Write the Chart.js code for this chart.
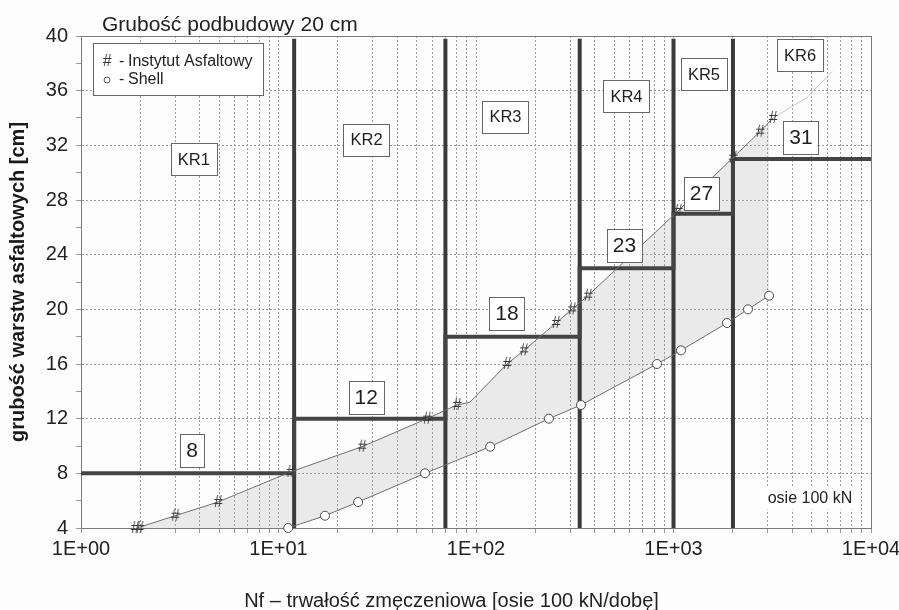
<!DOCTYPE html>
<html>
<head>
<meta charset="utf-8">
<script src="https://cdn.jsdelivr.net/npm/chart.js@4.4.0/dist/chart.umd.min.js"></script>
<style>
html,body{margin:0;padding:0;background:#fdfdfd}
canvas{display:block}
</style>
</head>
<body>
<canvas id="chart" width="899" height="610"></canvas>
<script>
// Texts
const chartTitle = 'Grubość podbudowy 20 cm';
const xTitle = 'Nf – trwałość zmęczeniowa [osie 100 kN/dobę]';
const yTitle = 'grubość warstw asfaltowych [cm]';
const legendNames = ['Instytut Asfaltowy', 'Shell'];

// Axes
const xMajor = [1, 10, 100, 1000, 10000];
const xMajorLabels = ['1E+00', '1E+01', '1E+02', '1E+03', '1E+04'];
const yTicks = [4, 6, 8, 10, 12, 14, 16, 18, 20, 22, 24, 26, 28, 30, 32, 34, 36, 38, 40];
const yLabelStep = 4;

// Instytut Asfaltowy (#) markers
const asfX = [1.88, 1.98, 3, 4.94, 11.5, 26.5, 56.5, 80, 143.6, 175, 254, 306, 369, 1055, 2000, 2742, 3190];
const asfY = [4, 4, 4.9, 5.9, 8.1, 9.95, 12, 13, 16, 17, 19, 20, 21, 27.2, 31.1, 33, 34];
// the line through them (bend at ~93, faint end past the last marker)
const asfLineX = [1.92, 3, 4.94, 11.5, 26.5, 56.5, 80, 93, 143.6, 175, 254, 306, 369, 1055, 2000, 2742, 3190, 4740, 6350];
const asfLineY = [4, 4.9, 5.9, 8.1, 9.95, 12, 13, 13.2, 16, 17, 19, 20, 21, 27.2, 31.1, 33, 34, 35.5, 37.4];

// Shell (o)
const shellX = [11.2, 17.2, 25.3, 55.2, 118, 234, 340, 825, 1091, 1866, 2383, 3046];
const shellY = [4, 4.9, 5.9, 8, 9.95, 12, 13, 16, 17, 19, 20, 21];

// traffic categories KR1..KR6 and required thickness
const krLimits = [12, 70, 335, 1000, 2000];
const stepX = [1, 12, 70, 335, 1000, 2000, 10000];
const stepY = [8, 12, 18, 23, 27, 31];
const krNames = ['KR1', 'KR2', 'KR3', 'KR4', 'KR5', 'KR6'];
const krLabelX = [3.73, 27.9, 141, 578, 1427, 4371];
const krLabelY = [31.0, 32.4, 34.1, 35.6, 37.2, 38.6];
const stepLabelX = [3.65, 27.8, 143.6, 565, 1386, 4424];
const stepLabelY = [9.7, 13.55, 19.7, 24.7, 28.5, 32.6];
const unitNote = 'osie 100 kN';
const unitNoteX = 4909, unitNoteY = 6.16;

const FONT = '"Liberation Sans", Arial, sans-serif';
Chart.defaults.font.family = FONT;
Chart.defaults.color = '#222';

const pts = (xs, ys) => xs.map((x, i) => ({x, y: ys[i]}));

// '#' marker glyph
const hashMark = (() => {
  const c = document.createElement('canvas');
  c.width = 16; c.height = 16;
  const g = c.getContext('2d');
  g.font = 'italic 16px ' + FONT;
  g.fillStyle = '#383838';
  g.textAlign = 'center';
  g.textBaseline = 'middle';
  g.fillText('#', 8, 9);
  return c;
})();

// x ticks: 1..9 in every decade
const xTickValues = [];
xMajor.slice(0, -1).forEach(p => { for (let m = 1; m < 10; m++) xTickValues.push(m * p); });
xTickValues.push(xMajor[xMajor.length - 1]);

const lineGray = '#6e6e6e';
const thick = '#3a3a3a';
const gridGray = '#9a9a9a';

const datasets = [
  {data: pts(asfX, asfY), showLine: false, pointStyle: hashMark, pointRadius: 8, clip: false, order: 0},
  {data: pts(shellX, shellY), showLine: false, pointStyle: 'circle', pointRadius: 4.5, pointBorderWidth: 1,
   pointBorderColor: '#4a4a4a', pointBackgroundColor: '#fff', clip: false, order: 1},
  {data: pts(asfLineX, asfLineY), showLine: true, pointRadius: 0, borderWidth: 1, borderColor: lineGray,
   segment: {borderColor: c => c.p0.parsed.x >= asfX[asfX.length - 1] ? '#c6c6c6' : lineGray},
   fill: {target: 5}, backgroundColor: 'rgba(160,160,160,0.2)', order: 2},
  {data: pts(shellX, shellY), showLine: true, pointRadius: 0, borderWidth: 1, borderColor: lineGray, order: 3},
  {data: pts(stepX, [...stepY, stepY[stepY.length - 1]]), showLine: true, stepped: 'before', pointRadius: 0,
   borderWidth: 4, borderColor: '#444', order: 4},
  // lower edge of the shaded band: y axis floor, then the Shell curve
  {data: pts([asfLineX[0], ...shellX], [yTicks[0], ...shellY]), showLine: true, pointRadius: 0, borderWidth: 0,
   borderColor: 'rgba(0,0,0,0)', order: 9},
  ...krLimits.map(v => ({data: [{x: v, y: yTicks[0]}, {x: v, y: 39.8}], showLine: true, pointRadius: 0,
   borderWidth: 4, borderColor: thick, borderCapStyle: 'butt', order: 5}))
];

function box(ctx, cx, cy, text, font, padX, h) {
  ctx.font = font;
  const w = ctx.measureText(text).width + padX * 2;
  const x = Math.round(cx - w / 2) + 0.5, y = Math.round(cy - h / 2) + 0.5;
  ctx.fillStyle = '#fff';
  ctx.fillRect(x, y, Math.round(w), h);
  ctx.strokeStyle = '#666';
  ctx.lineWidth = 1;
  ctx.strokeRect(x, y, Math.round(w), h);
  ctx.fillStyle = '#1e1e1e';
  ctx.textAlign = 'center';
  ctx.textBaseline = 'middle';
  ctx.fillText(text, cx, cy + 1);
}

const decor = {
  id: 'decor',
  beforeDatasetsDraw(chart) {
    const {ctx, chartArea: a} = chart;
    ctx.save();
    ctx.strokeStyle = '#7a7a7a';
    ctx.lineWidth = 1;
    ctx.strokeRect(a.left + 0.5, a.top + 0.5, a.right - a.left, a.bottom - a.top);
    ctx.restore();
  },
  afterDatasetsDraw(chart) {
    const {ctx, chartArea: a, scales: {x, y}} = chart;
    ctx.save();
    // unit note with a white patch under it
    ctx.font = '16px ' + FONT;
    const nx = x.getPixelForValue(unitNoteX), ny = y.getPixelForValue(unitNoteY);
    const nw = ctx.measureText(unitNote).width;
    ctx.fillStyle = '#fff';
    ctx.fillRect(nx - nw / 2 - 6, ny - 11, nw + 12, 22);
    ctx.fillStyle = '#222';
    ctx.textAlign = 'center';
    ctx.textBaseline = 'middle';
    ctx.fillText(unitNote, nx, ny);

    krNames.forEach((t, i) => box(ctx, x.getPixelForValue(krLabelX[i]), y.getPixelForValue(krLabelY[i]), t, '16.5px ' + FONT, 7, 32));
    stepY.forEach((v, i) => box(ctx, x.getPixelForValue(stepLabelX[i]), y.getPixelForValue(stepLabelY[i]), String(v), '21px ' + FONT, 6, 33));

    // legend
    const lx = a.left + 12, ly = a.top + 7;
    ctx.fillStyle = '#fff';
    ctx.fillRect(lx + 0.5, ly + 0.5, 170, 52);
    ctx.strokeStyle = '#666';
    ctx.strokeRect(lx + 0.5, ly + 0.5, 170, 52);
    ctx.drawImage(hashMark, lx + 6, ly + 10);
    ctx.beginPath();
    ctx.arc(lx + 14, ly + 37, 3, 0, Math.PI * 2);
    ctx.strokeStyle = '#555';
    ctx.stroke();
    ctx.fillStyle = '#222';
    ctx.textAlign = 'left';
    ctx.textBaseline = 'middle';
    ctx.font = '16px ' + FONT;
    ctx.fillText('-', lx + 26, ly + 19);
    ctx.fillText('-', lx + 26, ly + 37);
    ctx.fillText(legendNames[0], lx + 35, ly + 19);
    ctx.fillText(legendNames[1], lx + 35, ly + 37);

    // title and x axis title
    ctx.font = '21px ' + FONT;
    ctx.textBaseline = 'alphabetic';
    ctx.fillText(chartTitle, a.left + 21, a.top - 5);
    ctx.textAlign = 'center';
    ctx.font = '20px ' + FONT;
    ctx.fillText(xTitle, chart.width / 2 + 2, chart.height - 3);
    ctx.restore();
  }
};

new Chart(document.getElementById('chart'), {
  type: 'scatter',
  data: {datasets},
  plugins: [decor],
  options: {
    responsive: false,
    animation: false,
    events: [],
    layout: {padding: {left: 0, right: 28, top: 36, bottom: 0}},
    plugins: {legend: {display: false}, tooltip: {enabled: false}, filler: {drawTime: 'beforeDatasetsDraw'}},
    scales: {
      x: {
        type: 'logarithmic', min: xMajor[0], max: xMajor[xMajor.length - 1],
        afterBuildTicks: s => { s.ticks = xTickValues.map(v => ({value: v, major: xMajor.includes(v)})); },
        ticks: {autoSkip: false, maxRotation: 0, minRotation: 0, padding: 4, color: '#222', font: {size: 20},
          callback: v => { const i = xMajor.indexOf(v); return i >= 0 ? xMajorLabels[i] : ''; }},
        grid: {color: gridGray, lineWidth: 1, tickLength: 5, tickColor: gridGray, tickBorderDash: []},
        border: {display: true, color: '#7a7a7a', dash: [2, 2]},
        afterFit: s => { s.height = 82; s.paddingLeft = 0; s.paddingRight = 0; }
      },
      y: {
        type: 'linear', min: yTicks[0], max: yTicks[yTicks.length - 1],
        afterBuildTicks: s => { s.ticks = yTicks.map(v => ({value: v})); },
        ticks: {autoSkip: false, padding: 8, color: '#222', font: {size: 20},
          callback: v => (v % yLabelStep === 0 ? String(v) : '')},
        grid: {color: c => (c.tick && c.tick.value % yLabelStep === 0 ? gridGray : 'rgba(0,0,0,0)'),
          tickColor: gridGray, tickLength: 5, tickBorderDash: []},
        border: {display: true, color: '#7a7a7a', dash: [2, 2]},
        title: {display: true, text: yTitle, color: '#1a1a1a', font: {size: 20, weight: 'bold'}, padding: {top: 6, bottom: 0}},
        afterFit: s => { s.width = 81; s.paddingTop = 0; s.paddingBottom = 0; }
      }
    }
  }
});
</script>
</body>
</html>
